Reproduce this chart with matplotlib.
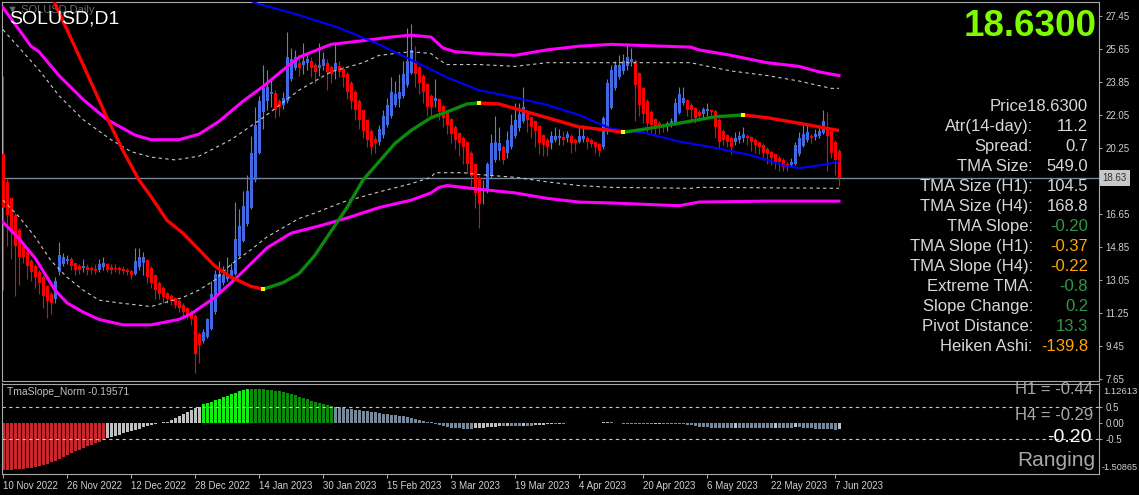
import numpy as np
import matplotlib.pyplot as plt
from matplotlib.transforms import blended_transform_factory

# ---- Heiken Ashi candles (daily bars, 10 Nov 2022 .. 8 Jun 2023) ----
opens = [19.9, 18.4, 17.5, 16.6, 15.8, 14.9, 14.6, 14.1, 13.8, 13.5,
         13.2, 12.7, 12.3, 12.0, 13.5, 13.9, 14.1, 14.2, 14.0, 13.8,
         13.7, 13.75, 13.7, 13.65, 13.6, 13.75, 13.9, 13.75, 13.7, 13.7,
         13.65, 13.6, 13.55, 13.4, 13.75, 14.0, 14.15, 13.7, 13.3, 12.9,
         12.6, 12.35, 12.2, 12.05, 11.9, 11.7, 11.5, 11.3, 11.1, 10.1,
         9.7, 9.95, 10.4, 11.3, 12.4, 12.9, 13.1, 13.25, 13.4, 14.35,
         15.2, 16.1, 17.0, 18.5, 20.0, 22.2, 22.8, 23.2, 23.25, 22.8,
         22.6, 22.8, 24.0, 24.6, 24.9, 24.75, 24.9, 25.0, 24.8, 24.6,
         24.7, 24.9, 24.65, 24.5, 24.7, 24.55, 24.3, 23.8, 23.3, 22.8,
         22.3, 21.75, 21.2, 20.75, 20.6, 20.95, 21.5, 22.0, 22.6, 22.9,
         23.1, 23.7, 24.35, 25.0, 24.65, 24.2, 23.75, 23.1, 22.8, 22.9,
         22.55, 22.2, 21.85, 21.4, 21.05, 20.8, 20.55, 20.0, 19.35, 18.6,
         17.9, 17.95, 18.7, 19.6, 20.1, 20.3, 19.95, 20.3, 20.9, 21.35,
         21.7, 22.1, 21.95, 21.7, 21.45, 20.95, 20.7, 20.5, 20.7, 20.8,
         20.85, 20.8, 20.9, 20.7, 20.6, 20.75, 20.8, 20.7, 20.55, 20.45,
         20.3, 21.1, 22.45, 23.5, 24.1, 24.45, 24.7, 24.95, 25.0, 24.35,
         23.5, 22.8, 22.2, 21.85, 21.6, 21.5, 21.45, 21.5, 21.6, 22.15,
         22.7, 22.85, 22.6, 22.45, 22.2, 22.1, 22.25, 22.3, 22.25, 21.8,
         21.2, 20.95, 20.8, 20.55, 20.7, 20.8, 20.9, 20.85, 20.7, 20.55,
         20.4, 20.2, 20.05, 19.9, 19.7, 19.6, 19.4, 19.3, 19.4, 19.9,
         20.35, 20.7, 20.9, 20.85, 20.9, 21.05, 21.4, 21.15, 20.6, 20.1]
closes = [17.0, 16.6, 15.7, 14.9, 14.3, 14.3, 13.8, 13.5, 13.2, 12.9,
          12.2, 11.9, 11.8, 13.0, 14.4, 14.3, 14.2, 13.8, 13.6, 13.6,
          13.8, 13.6, 13.6, 13.55, 13.9, 14.0, 13.6, 13.6, 13.65, 13.6,
          13.55, 13.5, 13.3, 14.1, 14.3, 14.3, 13.2, 12.9, 12.5, 12.3,
          12.1, 12.0, 11.9, 11.7, 11.5, 11.3, 11.1, 10.9, 9.0, 9.5,
          10.2, 10.9, 12.3, 13.4, 13.4, 13.3, 13.4, 13.6, 15.3, 16.0,
          17.1, 17.9, 20.0, 21.5, 22.8, 23.5, 23.6, 23.3, 22.3, 22.5,
          23.0, 25.2, 25.1, 25.2, 24.6, 25.0, 25.1, 24.6, 24.4, 24.8,
          25.1, 24.4, 24.3, 24.9, 24.4, 24.1, 23.3, 22.8, 22.3, 21.8,
          21.2, 20.7, 20.3, 20.5, 21.3, 22.0, 22.6, 23.3, 23.2, 23.3,
          24.3, 25.0, 25.6, 24.3, 23.8, 23.3, 22.5, 22.5, 23.0, 22.2,
          21.9, 21.5, 21.0, 20.7, 20.5, 20.3, 19.4, 18.7, 17.8, 17.2,
          18.0, 19.4, 20.5, 20.6, 20.5, 19.6, 20.7, 21.5, 21.8, 22.1,
          22.5, 21.8, 21.4, 21.2, 20.5, 20.4, 20.3, 20.9, 20.9, 20.9,
          20.7, 21.0, 20.5, 20.5, 20.9, 20.9, 20.6, 20.45, 20.3, 20.1,
          21.9, 23.8, 24.5, 24.8, 24.8, 25.0, 25.2, 25.1, 23.7, 22.6,
          22.1, 21.6, 21.5, 21.3, 21.4, 21.4, 21.6, 21.7, 22.7, 23.2,
          23.0, 22.3, 22.3, 21.9, 22.0, 22.4, 22.4, 22.2, 21.4, 20.6,
          20.7, 20.6, 20.3, 20.8, 20.9, 21.0, 20.8, 20.6, 20.4, 20.3,
          20.0, 19.9, 19.7, 19.5, 19.5, 19.2, 19.2, 19.5, 20.4, 20.8,
          21.0, 21.1, 20.8, 21.0, 21.2, 21.7, 20.9, 20.0, 19.6, 18.63]
highs = [24.2, 18.6, 17.6, 16.7, 15.9, 15.1, 14.7, 14.2, 13.9, 13.6,
         13.3, 12.8, 12.4, 13.2, 15.1, 14.5, 14.4, 14.3, 14.0, 13.9,
         14.2, 13.9, 13.8, 13.9, 14.2, 14.3, 14.0, 13.9, 13.9, 13.8,
         13.8, 13.7, 13.6, 14.8, 14.8, 14.6, 14.2, 13.8, 13.4, 13.0,
         12.7, 12.4, 12.3, 12.1, 12.0, 11.8, 11.6, 11.4, 11.2, 10.2,
         10.4, 11.0, 13.0, 13.6, 14.1, 13.8, 14.3, 14.0, 17.3, 16.9,
         17.9, 18.8, 20.9, 22.5, 23.1, 24.8, 24.5, 24.0, 23.4, 22.9,
         23.3, 26.6, 25.7, 25.6, 25.3, 26.0, 25.4, 25.2, 24.9, 26.0,
         25.5, 25.1, 24.8, 25.9, 25.0, 24.7, 24.4, 23.9, 23.4, 22.9,
         22.4, 21.8, 21.3, 20.9, 21.5, 22.3, 23.0, 24.1, 23.9, 24.3,
         25.0, 26.8, 27.0, 25.8, 24.7, 24.3, 23.8, 23.2, 24.0, 23.0,
         22.6, 22.3, 21.9, 21.5, 21.1, 20.9, 20.6, 20.1, 19.4, 18.7,
         18.5, 19.5, 21.0, 22.0, 21.4, 20.4, 21.2, 22.1, 22.7, 22.7,
         23.6, 22.3, 22.0, 21.8, 21.5, 21.0, 20.8, 21.2, 21.4, 21.3,
         21.2, 21.2, 21.0, 20.8, 21.4, 21.5, 20.9, 20.8, 20.6, 20.5,
         22.0, 24.0, 24.8, 25.0, 25.3, 25.4, 26.0, 25.7, 25.1, 24.4,
         23.6, 22.9, 22.3, 21.9, 21.7, 21.6, 21.7, 21.9, 23.0, 23.6,
         23.6, 22.9, 22.7, 22.5, 22.3, 22.5, 22.7, 22.4, 22.3, 21.9,
         21.3, 21.0, 20.9, 21.1, 21.2, 21.4, 21.0, 20.9, 20.8, 20.6,
         20.5, 20.3, 20.1, 20.0, 19.8, 19.7, 19.5, 19.7, 20.6, 21.1,
         21.6, 21.6, 21.0, 21.3, 21.5, 22.3, 22.2, 21.2, 20.7, 20.2]
lows = [12.5, 14.9, 14.2, 12.2, 12.8, 14.0, 13.1, 13.0, 12.6, 12.3,
        11.5, 11.0, 11.2, 11.8, 13.3, 13.8, 13.9, 13.6, 13.3, 13.4,
        13.5, 13.3, 13.4, 13.4, 13.5, 13.6, 13.5, 13.4, 13.5, 13.4,
        13.4, 13.3, 13.1, 13.3, 13.6, 13.3, 12.9, 12.6, 12.0, 12.0,
        11.8, 11.8, 11.7, 11.5, 11.3, 11.0, 10.9, 10.6, 8.0, 8.5,
        9.6, 9.9, 10.3, 11.2, 12.3, 12.8, 13.0, 13.1, 13.3, 14.3,
        15.1, 16.0, 16.9, 18.4, 19.9, 21.3, 22.3, 22.5, 21.9, 22.0,
        22.4, 22.7, 23.9, 24.5, 24.2, 24.3, 24.5, 24.1, 23.8, 24.2,
        24.5, 23.4, 23.8, 24.0, 24.1, 23.6, 22.9, 22.4, 21.8, 21.3,
        20.8, 20.3, 19.9, 20.0, 20.4, 20.8, 21.4, 21.9, 22.5, 22.5,
        23.0, 23.6, 24.3, 23.6, 23.2, 22.7, 22.0, 22.0, 22.5, 21.8,
        21.4, 21.0, 20.5, 20.2, 19.8, 19.4, 18.9, 18.2, 17.0, 15.9,
        17.2, 17.8, 18.6, 19.5, 19.6, 19.4, 19.7, 20.2, 20.8, 21.2,
        21.6, 21.1, 20.8, 20.3, 19.9, 19.8, 19.8, 20.2, 20.6, 20.4,
        20.4, 20.6, 20.0, 20.1, 20.5, 20.6, 20.2, 20.3, 20.0, 19.8,
        20.2, 21.0, 22.4, 23.4, 24.0, 24.3, 24.5, 24.7, 21.7, 22.0,
        21.6, 21.1, 21.0, 20.9, 21.0, 21.1, 21.2, 21.4, 21.5, 22.1,
        22.6, 22.0, 21.8, 21.6, 21.8, 21.9, 22.0, 21.9, 20.8, 20.2,
        20.4, 20.3, 19.9, 20.4, 20.5, 20.6, 20.4, 20.1, 20.0, 19.9,
        19.6, 19.4, 19.3, 19.1, 19.0, 19.0, 19.0, 19.2, 19.3, 19.8,
        20.3, 20.6, 20.5, 20.7, 20.8, 21.0, 19.0, 19.7, 18.8, 18.2]

# ---- TMA centre line (bar index, price) and trend segments ----
tma_idx = [0, 6, 12, 16, 20, 26, 30, 34, 37, 41, 45, 49, 53, 57, 62,
           65, 70, 74, 78, 82, 86, 90, 94, 98, 102, 107, 112, 116, 119, 124,
           128, 136, 144, 152, 155, 161, 169, 178, 185, 191, 199, 204, 209]
tma_val = [34.5, 31.4, 28.6, 26.7, 24.8, 21.9, 20.1, 18.5, 17.6, 16.3, 15.6, 14.7, 13.8, 13.2, 12.7,
           12.55, 12.9, 13.4, 14.4, 15.7, 17.0, 18.5, 19.5, 20.5, 21.2, 21.9, 22.3, 22.65, 22.7, 22.65,
           22.4, 21.9, 21.4, 21.2, 21.1, 21.3, 21.6, 21.95, 22.05, 21.9, 21.6, 21.4, 21.2]
tma_turns = [0, 65, 119, 155, 185, 209]
tma_trend = ['down', 'up', 'down', 'up', 'down']

# ---- slow moving average (blue) ----
ma_idx = [58, 63, 74, 84, 94, 102, 111, 119, 128, 136, 144, 152, 160, 169, 177, 186, 191, 195, 199, 204, 209]
ma_val = [28.8, 28.16, 27.5, 26.8, 25.9, 25.05, 24.1, 23.4, 23.0, 22.6, 22.05, 21.3, 21.1, 20.6, 20.3,
          19.9, 19.6, 19.3, 19.15, 19.3, 19.5]

# ---- TMA bands ----
upper_idx = [0, 7, 9, 14, 20, 26, 33, 37, 44, 49, 54, 60, 65, 70, 74, 82, 90, 97, 102, 107,
             110, 113, 119, 128, 136, 144, 152, 165, 172, 174, 182, 191, 199, 204, 209]
upper_val = [27.9, 25.8, 25.5, 24.2, 22.9, 21.8, 20.95, 20.7, 20.7, 21.0, 21.7, 22.8, 23.6, 24.5, 25.2,
             25.9, 26.1, 26.3, 26.4, 26.3, 25.7, 25.5, 25.4, 25.3, 25.6, 25.8, 25.9, 25.8, 25.75, 25.6,
             25.3, 24.9, 24.7, 24.4, 24.2]
upper_in_idx = [0, 9, 14, 20, 27, 32, 37, 43, 49, 57, 65, 74, 82, 90, 94, 102, 107, 109, 111, 119,
                128, 136, 144, 160, 172, 174, 182, 191, 199, 207, 209]
upper_in_val = [26.7, 24.5, 23.1, 21.8, 20.7, 20.05, 19.75, 19.6, 19.8, 20.7, 21.9, 23.4, 24.4, 24.9, 25.3,
                25.5, 25.4, 25.05, 24.8, 24.8, 24.7, 24.9, 24.9, 24.9, 24.9, 24.8, 24.45, 24.2, 23.9, 23.5, 23.5]
lower_idx = [0, 4, 8, 13, 16, 20, 24, 30, 37, 44, 47, 53, 59, 66, 72, 80, 87, 94, 102, 107,
             109, 111, 115, 119, 128, 136, 144, 152, 169, 174, 191, 209]
lower_val = [16.2, 15.3, 14.25, 12.5, 11.8, 11.3, 10.9, 10.6, 10.6, 10.9, 11.2, 12.1, 13.3, 14.8, 15.6,
             16.05, 16.5, 17.0, 17.4, 17.8, 18.1, 18.2, 18.1, 18.0, 17.8, 17.5, 17.3, 17.25, 17.1, 17.3,
             17.35, 17.35]
lower_in_idx = [0, 4, 8, 12, 16, 20, 24, 29, 37, 45, 49, 53, 57, 62, 66, 70, 74, 78, 85, 94,
                102, 107, 108, 115, 119, 128, 136, 144, 152, 172, 174, 209]
lower_in_val = [17.4, 16.5, 15.4, 14.1, 13.2, 12.5, 11.95, 11.8, 11.6, 12.1, 12.5, 13.05, 13.9, 14.7, 15.4,
                15.9, 16.4, 16.7, 17.3, 17.85, 18.3, 18.65, 18.9, 18.9, 18.8, 18.65, 18.4, 18.2, 18.1, 18.05,
                18.1, 18.05]

# ---- TmaSlope_Norm oscillator, one value per bar ----
slope_norm = [-1.44, -1.44, -1.43, -1.42, -1.41, -1.40, -1.39, -1.38, -1.36, -1.33,
              -1.29, -1.25, -1.20, -1.15, -1.09, -1.04, -0.98, -0.93, -0.87, -0.82,
              -0.77, -0.72, -0.67, -0.62, -0.57, -0.52, -0.46, -0.43, -0.39, -0.36,
              -0.32, -0.28, -0.25, -0.21, -0.17, -0.13, -0.09, -0.06, -0.03, -0.01,
              0.02, 0.04, 0.09, 0.15, 0.21, 0.28, 0.34, 0.39, 0.45, 0.50,
              0.57, 0.62, 0.65, 0.70, 0.75, 0.80, 0.84, 0.88, 0.93, 0.98,
              1.01, 1.04, 1.04, 1.04, 1.04, 1.03, 1.02, 1.01, 0.99, 0.97,
              0.94, 0.92, 0.89, 0.85, 0.81, 0.77, 0.73, 0.69, 0.65, 0.62,
              0.59, 0.56, 0.53, 0.50, 0.48, 0.46, 0.44, 0.42, 0.41, 0.40,
              0.38, 0.37, 0.35, 0.33, 0.31, 0.29, 0.27, 0.26, 0.25, 0.23,
              0.21, 0.18, 0.15, 0.12, 0.09, 0.06, 0.04, 0.02, -0.02, -0.06,
              -0.10, -0.13, -0.15, -0.16, -0.16, -0.17, -0.17, -0.17, -0.16, -0.15,
              -0.14, -0.13, -0.12, -0.11, -0.10, -0.10, -0.09, -0.09, -0.09, -0.09,
              -0.08, -0.08, -0.08, -0.07, -0.06, -0.05, -0.04, -0.03, -0.03, -0.02,
              -0.02, -0.01, -0.01, 0.00, 0.005, 0.005, 0.01, 0.01, 0.01, 0.01,
              0.02, 0.04, 0.02, 0.00, -0.01, -0.015, -0.02, -0.02, -0.02, -0.025,
              -0.03, -0.03, -0.03, -0.025, -0.02, -0.02, -0.02, -0.02, -0.02, -0.03,
              -0.04, -0.06, -0.07, -0.09, -0.11, -0.12, -0.13, -0.14, -0.14, -0.15,
              -0.15, -0.15, -0.15, -0.14, -0.14, -0.14, -0.14, -0.15, -0.15, -0.15,
              -0.15, -0.15, -0.15, -0.14, -0.14, -0.14, -0.14, -0.14, -0.13, -0.13,
              -0.14, -0.15, -0.16, -0.17, -0.17, -0.18, -0.18, -0.19, -0.20, -0.196]

date_ticks = [0, 16, 32, 48, 64, 80, 96, 112, 128, 144, 160, 176, 192, 208]
date_labels = ['10 Nov 2022', '26 Nov 2022', '12 Dec 2022', '28 Dec 2022', '14 Jan 2023',
               '30 Jan 2023', '15 Feb 2023', '3 Mar 2023', '19 Mar 2023', '4 Apr 2023',
               '20 Apr 2023', '6 May 2023', '22 May 2023', '7 Jun 2023']
price_ticks = [27.45, 25.65, 23.85, 22.05, 20.25, 18.45, 16.65, 14.85, 13.05, 11.25, 9.45, 7.65]
last_price = 18.63

info_labels = ['Atr(14-day):', 'Spread:', 'TMA Size:', 'TMA Size (H1):', 'TMA Size (H4):',
               'TMA Slope:', 'TMA Slope (H1):', 'TMA Slope (H4):', 'Extreme TMA:',
               'Slope Change:', 'Pivot Distance:', 'Heiken Ashi:']
info_values = ['11.2', '0.7', '549.0', '104.5', '168.8', '-0.20', '-0.37', '-0.22',
               '-0.8', '0.2', '13.3', '-139.8']
info_colors = ['#d8d8d8', '#d8d8d8', '#d8d8d8', '#d8d8d8', '#d8d8d8', '#2e9a47', '#ffa500',
               '#ffa500', '#2e9a47', '#2e9a47', '#2e9a47', '#ffa500']

FONT = ['Liberation Sans', 'DejaVu Sans']
plt.rcParams['font.family'] = FONT

W, H = 1139, 495
fig = plt.figure(figsize=(W / 100, H / 100), dpi=100, facecolor='black')


def px_axes(x0, y0, x1, y1):
    return fig.add_axes([x0 / W, 1 - y1 / H, (x1 - x0) / W, (y1 - y0) / H])


def fig_text(x, y, s, **kw):
    return fig.text(x / W, 1 - y / H, s, **kw)


ax = px_axes(2, 2, 1099, 381)
ax2 = px_axes(2, 383.5, 1099, 474)
for a in (ax, ax2):
    a.set_facecolor('black')
    a.set_xlim(-0.25, 274)
    for sp in a.spines.values():
        sp.set_color('#a8a8a8')
        sp.set_linewidth(0.8)

# --- main panel ---
o = np.array(opens); c = np.array(closes); hi = np.array(highs); lo = np.array(lows)
bars = np.arange(len(c))
up = c >= o
ax.vlines(bars[up], lo[up], hi[up], color='#5a7fe0', lw=0.8, zorder=2)
ax.vlines(bars[~up], lo[~up], hi[~up], color='#ff0000', lw=0.8, zorder=2)
ax.bar(bars, np.maximum(np.abs(c - o), 0.08), bottom=np.minimum(o, c), width=0.75,
       color=np.where(up, '#4169e1', '#ff0000'), linewidth=0, zorder=3)

dash = (0, (3, 3))
ax.plot(upper_in_idx, upper_in_val, color='#c8c8c8', lw=0.8, ls=dash, zorder=4)
ax.plot(lower_in_idx, lower_in_val, color='#c8c8c8', lw=0.8, ls=dash, zorder=4)
ax.plot(upper_idx, upper_val, color='#ff00ff', lw=2.2, zorder=5)
ax.plot(lower_idx, lower_val, color='#ff00ff', lw=2.2, zorder=5)
ax.plot(ma_idx, ma_val, color='#0000ff', lw=1.5, zorder=5)

ti = np.array(tma_idx); tv = np.array(tma_val)
for k, trend in enumerate(tma_trend):
    m = (ti >= tma_turns[k]) & (ti <= tma_turns[k + 1])
    ax.plot(ti[m], tv[m], color='#ff0000' if trend == 'down' else '#0b8a0b',
            lw=2.4, solid_capstyle='butt', zorder=6)
for t in tma_turns[1:-1]:
    ax.plot(t, tv[list(ti).index(t)], 's', color='#ffff00', ms=2.2, mew=0, zorder=7)

ax.axhline(last_price, color='#778899', lw=1, zorder=1)

ax.set_ylim(7.54, 28.21)
ax.set_xticks([])
ax.yaxis.tick_right()
ax.set_yticks(price_ticks)
ax.set_yticklabels(['%.2f' % p for p in price_ticks])
ax.tick_params(axis='y', colors='#a8a8a8', labelcolor='#d0d0d0', labelsize=7, length=2.5, pad=2)
tr = blended_transform_factory(ax.transAxes, ax.transData)
ax.text(1.0028, last_price, '%.2f' % last_price, transform=tr, fontsize=7, color='#303030',
        va='center', ha='left',
        bbox=dict(boxstyle='square,pad=0.25', fc='#c8c8c8', ec='#e0e0e0', lw=0.6), zorder=10)

# --- oscillator panel ---
sv = np.array(slope_norm)
cols = []
for i, v in enumerate(sv):
    prev = sv[i - 1] if i > 0 else v
    if v < -0.5:
        cols.append('#c8282d')
    elif v > 0.5:
        cols.append('#11ee11' if v > prev else '#0b8a0b')
    else:
        cols.append('#c0c0c0' if v > prev else '#778899')
ax2.bar(bars, sv, width=0.75, color=cols, linewidth=0)
ax2.axhline(0.5, color='#c8c8c8', lw=0.8, ls=dash)
ax2.axhline(-0.5, color='#c8c8c8', lw=0.8, ls=dash)
ax2.set_ylim(-1.564, 1.212)
ax2.yaxis.tick_right()
ax2.set_yticks([0.5, 0.0, -0.5])
ax2.set_yticklabels(['0.5', '0.00', '-0.5'])
ax2.tick_params(axis='y', colors='#a8a8a8', labelcolor='#d0d0d0', labelsize=7, length=2.5, pad=2)
ax2.set_xticks(date_ticks)
ax2.set_xticklabels(date_labels)
ax2.tick_params(axis='x', colors='#a8a8a8', labelcolor='#d0d0d0', labelsize=7, length=3, pad=2)
for lab in ax2.get_xticklabels():
    lab.set_ha('left')
fig_text(1103, 391, '1.12613', fontsize=6.8, color='#d0d0d0', va='center')
fig_text(1102, 467, '-1.50865', fontsize=6.6, color='#d0d0d0', va='center')

# --- texts ---
fig_text(7, 10, '\u25bc SOLUSD,Daily', fontsize=8, color='#6a6a6a', va='center')
fig_text(9, 19, 'SOLUSD,D1', fontsize=14, color='white', va='center')
fig_text(1097, 27, '18.6300', fontsize=26.5, color='#7cfc00', fontweight='bold', ha='right', va='center')
fig_text(1088, 106.5, 'Price18.6300', fontsize=12, color='#d8d8d8', ha='right', va='center')
for k, (lab, val, col) in enumerate(zip(info_labels, info_values, info_colors)):
    y = 126.5 + 20 * k
    fig_text(1033, y, lab, fontsize=12, color='#d8d8d8', ha='right', va='center')
    fig_text(1088, y, val, fontsize=12, color=col, ha='right', va='center')

fig_text(7, 392, 'TmaSlope_Norm -0.19571', fontsize=7.5, color='#c0c0c0', va='center')
fig_text(1093, 390, 'H1 = -0.44', fontsize=12, color='#a8a8a8', ha='right', va='center')
fig_text(1093, 415, 'H4 = -0.29', fontsize=12, color='#a8a8a8', ha='right', va='center')
fig_text(1092, 438, '-0.20', fontsize=14, color='white', ha='right', va='center')
fig_text(1095, 461, 'Ranging', fontsize=15, color='#a8a8a8', ha='right', va='center')

fig.savefig('out.png', dpi=100, facecolor='black')
